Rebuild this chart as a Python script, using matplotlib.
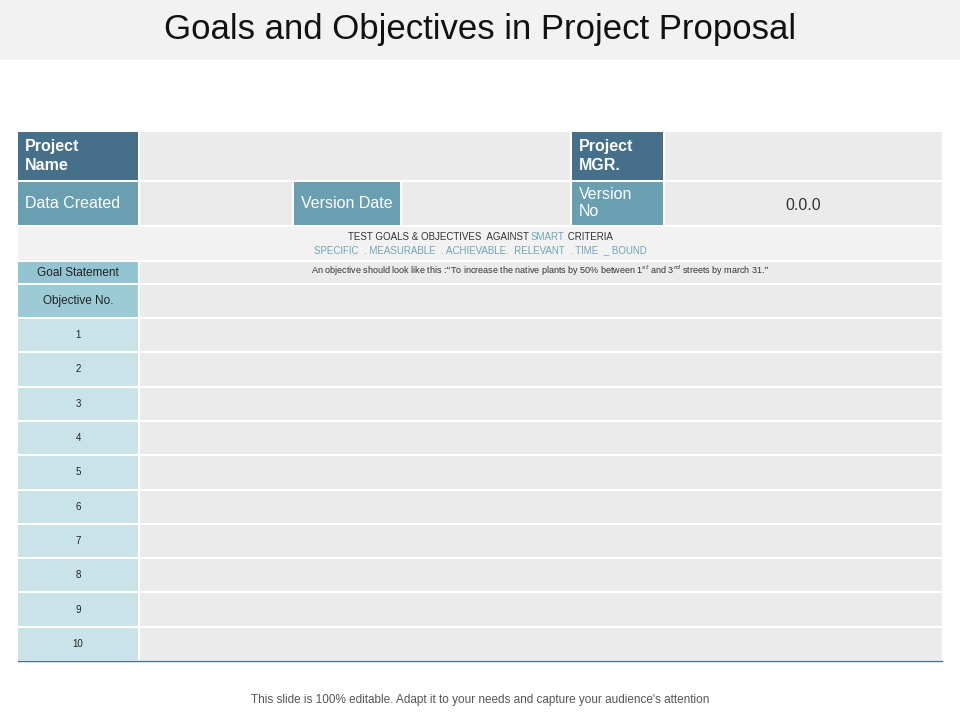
import matplotlib.pyplot as plt
from matplotlib.patches import Rectangle

plt.rcParams["font.family"] = "Liberation Sans"

title = "Goals and Objectives in Project Proposal"
footer = "This slide is 100% editable. Adapt it to your needs and capture your audience's attention"
header_labels = ["Project\nName", "Project\nMGR."]
info_labels = ["Data Created", "Version Date", "Version\nNo"]
version_value = "0.0.0"
smart_line1 = ["TEST GOALS & OBJECTIVES  AGAINST ", "SMART", " CRITERIA"]
smart_line2 = "SPECIFIC  . MEASURABLE  . ACHIEVABLE.  RELEVANT  . TIME  _ BOUND"
goal_label = "Goal Statement"
goal_text = ("An objective should look like this :\u201cTo increase the native plants by 50% "
             "between 1$^{st}$ and 3$^{rd}$ streets by march 31.\u201d")
objective_label = "Objective No."
objective_numbers = [str(i) for i in range(1, 11)]

DARK = "#467089"
MID = "#6a9fb1"
SMARTC = "#6fa4b8"
GRAY = "#ebebeb"

fig = plt.figure(figsize=(9.6, 7.2), dpi=100)
ax = fig.add_axes([0, 0, 1, 1])
ax.set_xlim(0, 960)
ax.set_ylim(720, 0)
ax.axis("off")


def cell(x0, y0, x1, y1, color):
    ax.add_patch(Rectangle((x0, y0), x1 - x0, y1 - y0, color=color, lw=0))


# title band
cell(0, 0, 960, 60, "#f2f2f2")
ax.text(480, 30, title, ha="center", va="center", fontsize=25, color="#111111")

# row 1
cell(18, 132, 138, 180, DARK)
cell(140, 132, 570, 180, GRAY)
cell(572, 132, 663, 180, DARK)
cell(665, 132, 942, 180, GRAY)
ax.text(25, 156, header_labels[0], ha="left", va="center", fontsize=11.5,
        color="white", fontweight="bold", linespacing=1.3)
ax.text(579, 156, header_labels[1], ha="left", va="center", fontsize=11.5,
        color="white", fontweight="bold", linespacing=1.3)

# row 2
cell(18, 182, 138, 225, MID)
cell(140, 182, 292, 225, GRAY)
cell(294, 182, 400, 225, MID)
cell(402, 182, 570, 225, GRAY)
cell(572, 182, 663, 225, MID)
cell(665, 182, 942, 225, GRAY)
ax.text(25, 203, info_labels[0], ha="left", va="center", fontsize=11.5, color="white")
ax.text(347, 203, info_labels[1], ha="center", va="center", fontsize=11.5, color="white")
ax.text(579, 203, info_labels[2], ha="left", va="center", fontsize=11.5,
        color="white", linespacing=1.2)
ax.text(803, 205, version_value, ha="center", va="center", fontsize=11.5, color="#333333")

# SMART row
cell(18, 227, 942, 260, "#f2f2f2")
fs = 7
t = ax.text(480, 237, "".join(smart_line1), ha="center", va="center", fontsize=fs, color="white")
fig.canvas.draw()
w = t.get_window_extent().width
t.remove()
x = 480 - w / 2
for part in smart_line1:
    col = SMARTC if part == "SMART" else "#333333"
    tt = ax.text(x, 237, part, ha="left", va="center", fontsize=fs, color=col)
    fig.canvas.draw()
    x += tt.get_window_extent().width
ax.text(480, 250, smart_line2, ha="center", va="center", fontsize=fs, color=SMARTC)

# goal statement
cell(18, 262, 138, 283, "#93c4d1")
cell(140, 262, 942, 283, GRAY)
ax.text(78, 273, goal_label, ha="center", va="center", fontsize=8.5, color="#222222")
ax.text(540, 271, goal_text, ha="center", va="center", fontsize=6.5, color="#333333")

# objective header
cell(18, 285, 138, 317, "#9ccbd6")
cell(140, 285, 942, 317, GRAY)
ax.text(78, 301, objective_label, ha="center", va="center", fontsize=8.5, color="#222222")

# objective rows
y = 319
h = 32.3
for num in objective_numbers:
    cell(18, y, 138, y + h, "#c9e3e9")
    cell(140, y, 942, y + h, GRAY)
    ax.text(78, y + h / 2, num, ha="center", va="center", fontsize=7, color="#222222")
    y += h + 2
ax.plot([18, 942], [y - 1, y - 1], color="#467089", lw=1)

ax.text(480, 700, footer, ha="center", va="center", fontsize=8.5, color="#555555")

fig.savefig("out.png", dpi=100)
